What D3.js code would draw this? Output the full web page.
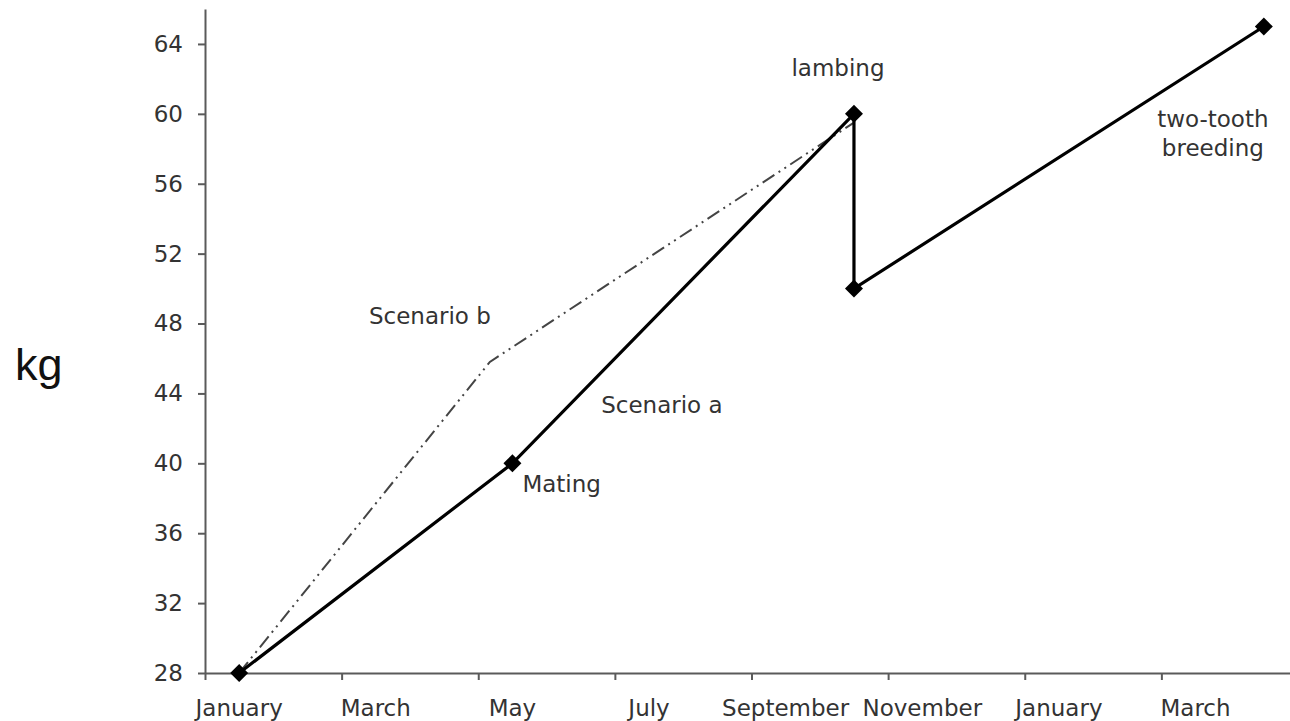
<!DOCTYPE html>
<meta charset="utf-8">
<style>
body { margin: 0; background: #fff; }
.axis path, .axis line { stroke: #5a5a5a; stroke-width: 2px; }
.lbl, .tick text { font-family: "DejaVu Sans", sans-serif; font-size: 23px; fill: #333; }
.a-line { fill: none; stroke: #000; stroke-width: 3.2px; }
.b-line { fill: none; stroke: #444; stroke-width: 2px; stroke-dasharray: 14 5 2 5 2 5; }
</style>
<body>
<script src="https://cdn.jsdelivr.net/npm/d3@7"></script>
<script>
var width = 1290, height = 721;

// month index: 0 = start of January, tick every 2 months
var monthNames = ["January", "March", "May", "July", "September", "November", "January", "March"];
var monthTicks = [0, 2, 4, 6, 8, 10, 12, 14];
var yTicks = [28, 32, 36, 40, 44, 48, 52, 56, 60, 64];

// scenario a (solid, with markers)
var aMonths = [0.5, 4.5, 9.5, 9.5, 15.5];
var aKg = [28, 40, 60, 50, 65];
// scenario b (dash dot dot)
var bMonths = [0.5, 4.17, 9.5];
var bKg = [28, 45.8, 59.5];

var x = d3.scaleLinear().domain([0, 16]).range([205, 1298]);
var y = d3.scaleLinear().domain([28, 66]).range([673, 9]);

var svg = d3.select("body").append("svg")
    .attr("width", width)
    .attr("height", height);

svg.append("g")
    .attr("class", "axis")
    .attr("transform", "translate(205,0)")
    .call(d3.axisLeft(y).tickValues(yTicks).tickSize(7).tickSizeOuter(0).tickPadding(15));

svg.append("g")
    .attr("class", "axis")
    .attr("transform", "translate(0,673)")
    .call(d3.axisBottom(x).tickValues(monthTicks).tickSize(7).tickSizeOuter(0).tickFormat(""));

svg.selectAll(".mlabel")
    .data(monthNames)
  .enter().append("text")
    .attr("class", "lbl")
    .attr("x", function(d, i) { return x(monthTicks[i] + 0.5); })
    .attr("y", 716)
    .attr("text-anchor", "middle")
    .text(function(d) { return d; });

svg.append("text")
    .attr("x", 15)
    .attr("y", 380)
    .style("font-family", "'Liberation Sans', Arial, sans-serif")
    .style("font-size", "45px")
    .style("fill", "#111")
    .text("kg");

var line = d3.line()
    .x(function(d) { return x(d[0]); })
    .y(function(d) { return y(d[1]); });

var bData = bMonths.map(function(m, i) { return [m, bKg[i]]; });
var aData = aMonths.map(function(m, i) { return [m, aKg[i]]; });

svg.append("path").datum(bData).attr("class", "b-line").attr("d", line);
svg.append("path").datum(aData).attr("class", "a-line").attr("d", line);

svg.selectAll(".marker")
    .data(aData)
  .enter().append("path")
    .attr("class", "marker")
    .attr("d", "M0,-9L9,0L0,9L-9,0Z")
    .attr("fill", "#000")
    .attr("transform", function(d) { return "translate(" + x(d[0]) + "," + y(d[1]) + ")"; });

// annotations
function note(txt, px, py, anchor) {
  svg.append("text")
      .attr("class", "lbl")
      .attr("x", px)
      .attr("y", py)
      .attr("text-anchor", anchor || "start")
      .text(txt);
}
note("Scenario b", x(2.4), y(48.0));
note("Scenario a", x(5.8), y(42.9));
note("Mating", x(4.5) + 10, y(40) + 29);
note("lambing", x(9.5) - 16, y(60) - 38, "middle");
note("two-tooth", x(15.5) - 51, y(65) + 101, "middle");
note("breeding", x(15.5) - 51, y(65) + 130, "middle");
</script>
